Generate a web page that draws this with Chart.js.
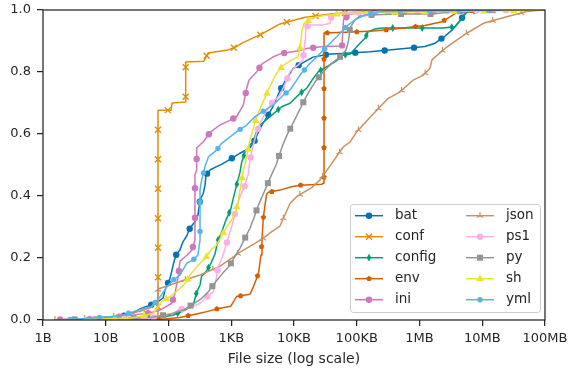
<!DOCTYPE html>
<html>
<head>
<meta charset="utf-8">
<script src="https://cdn.jsdelivr.net/npm/chart.js@4.4.1/dist/chart.umd.min.js"></script>
<style>
  html, body { margin: 0; padding: 0; background: #fff; }
</style>
</head>
<body>
<canvas id="cdfChart" width="570" height="372"></canvas>
<script>
// --- data ---
const extensions = ['bat', 'conf', 'config', 'env', 'ini', 'json', 'ps1', 'py', 'sh', 'yml'];

// x axis: one tick per decade
const tickSizes = [1, 10, 100, 1e3, 1e4, 1e5, 1e6, 1e7, 1e8];
const tickLabels = ['1B', '10B', '100B', '1KB', '10KB', '100KB', '1MB', '10MB', '100MB'];

// ECDF vertices, [file size in bytes, cumulative fraction]
const bat = [[6.7,0.002],[17,0.010],[29,0.026],[37,0.038],[51,0.048],[68,0.059],[82,0.071],[88,0.097],[106,0.135],[122,0.187],[132,0.210],[152,0.226],[170,0.252],[195,0.271],[220,0.297],[264,0.317],[295,0.339],[318,0.387],[359,0.409],[382,0.435],[396,0.468],[459,0.484],[572,0.494],[712,0.503],[956,0.518],[1380,0.538],[1990,0.555],[2390,0.581],[2870,0.618],[3450,0.645],[4630,0.688],[5560,0.726],[6370,0.751],[7740,0.781],[9740,0.812],[13300,0.828],[20100,0.848],[37500,0.858],[58200,0.860],[162000,0.865],[438000,0.873],[1.22e6,0.882],[1.77e6,0.893],[2.55e6,0.916],[3.29e6,0.935],[4.42e6,0.965],[5.31e6,0.989],[6.38e6,0.997],[9.2e6,1.0]];
const conf = [[35,0.001],[51,0.003],[66,0.006],[68,0.006],[68,0.677],[110,0.677],[114,0.700],[188,0.703],[188,0.832],[367,0.835],[426,0.861],[887,0.871],[1190,0.881],[1480,0.893],[3090,0.923],[5980,0.955],[14400,0.976],[37500,0.987],[113000,0.994],[1.02e6,0.997],[9.2e6,0.999],[3e7,1.0]];
const config = [[5.6,0.002],[35,0.003],[65,0.005],[119,0.016],[172,0.029],[248,0.048],[281,0.090],[318,0.113],[338,0.142],[382,0.151],[459,0.177],[551,0.213],[616,0.258],[704,0.284],[825,0.323],[980,0.357],[1110,0.403],[1230,0.439],[1380,0.477],[1470,0.510],[1660,0.542],[1990,0.565],[2250,0.575],[2480,0.603],[2870,0.629],[4150,0.656],[6370,0.688],[8650,0.699],[12500,0.731],[15900,0.747],[19400,0.774],[24400,0.801],[33200,0.817],[46700,0.835],[60900,0.855],[78000,0.857],[106000,0.887],[135000,0.909],[153000,0.930],[195000,0.939],[250000,0.942],[787000,0.942],[2.37e6,0.942],[3.68e6,0.946],[4.7e6,0.973],[5.65e6,0.993],[7.65e6,0.998],[1.33e7,1.0]];
const env = [[8.1,0.001],[72.6,0.002],[152,0.008],[318,0.022],[406,0.027],[662,0.038],[980,0.044],[1220,0.076],[1990,0.083],[2250,0.107],[2480,0.129],[2720,0.151],[2980,0.210],[3090,0.258],[3240,0.328],[3450,0.371],[3670,0.406],[3900,0.412],[5980,0.419],[9190,0.430],[12500,0.435],[27600,0.438],[30100,0.442],[30100,0.926],[65000,0.928],[184000,0.932],[507000,0.941],[1.22e6,0.950],[2.26e6,0.962],[3.06e6,0.978],[3.82e6,0.990],[5.31e6,0.997],[9.2e6,0.999],[1.92e7,1.0]];
const ini = [[1.87,0.002],[8.1,0.003],[51,0.023],[73,0.032],[113,0.054],[127,0.086],[143,0.140],[152,0.190],[195,0.208],[237,0.226],[264,0.258],[264,0.468],[281,0.484],[281,0.555],[359,0.575],[470,0.607],[662,0.629],[931,0.643],[1220,0.656],[1560,0.694],[1760,0.747],[1920,0.774],[2550,0.801],[3090,0.826],[4680,0.849],[6370,0.860],[12500,0.869],[15900,0.876],[29000,0.882],[58200,0.884],[61500,0.968],[78000,0.987],[235000,0.994],[1.47e6,0.997],[1.92e7,1.0]];
const json = [[1.55,0.001],[8.1,0.006],[24.4,0.019],[51,0.039],[66,0.058],[68,0.100],[106,0.113],[152,0.124],[318,0.145],[662,0.174],[1070,0.203],[1380,0.219],[2250,0.244],[3240,0.264],[4420,0.285],[5980,0.303],[6770,0.328],[8650,0.376],[11000,0.398],[19100,0.427],[26000,0.452],[35200,0.489],[60900,0.558],[78000,0.574],[99800,0.607],[162000,0.653],[235000,0.688],[318000,0.715],[489000,0.736],[797000,0.774],[1.15e6,0.790],[1.47e6,0.812],[1.58e6,0.839],[2.55e6,0.876],[3.92e6,0.903],[5.65e6,0.925],[1.04e7,0.957],[2.45e7,0.978],[5.11e7,0.995],[7.38e7,0.998],[1e8,1.0]];
const ps1 = [[6.7,0.002],[51,0.006],[119,0.022],[152,0.035],[220,0.039],[318,0.054],[406,0.074],[519,0.091],[572,0.129],[622,0.174],[712,0.200],[844,0.247],[1030,0.306],[1190,0.355],[1380,0.398],[1660,0.435],[1870,0.473],[1990,0.516],[2140,0.548],[2480,0.597],[2870,0.635],[3580,0.671],[4420,0.699],[5980,0.726],[7490,0.769],[8650,0.801],[11700,0.823],[13900,0.839],[15000,0.903],[15300,0.935],[16900,0.952],[29300,0.952],[37500,0.957],[39900,0.984],[54100,0.990],[489000,0.995],[6.38e6,0.998],[4e7,1.0]];
const py = [[3.2,0.002],[17,0.003],[57,0.010],[106,0.019],[172,0.032],[264,0.055],[338,0.070],[426,0.090],[551,0.121],[712,0.148],[931,0.174],[1150,0.206],[1380,0.232],[1660,0.265],[1990,0.296],[2300,0.329],[2640,0.365],[3090,0.397],[3670,0.432],[4300,0.465],[5170,0.500],[5980,0.539],[6770,0.569],[8020,0.603],[9890,0.639],[12000,0.674],[14600,0.709],[18000,0.742],[22400,0.772],[30100,0.803],[39900,0.828],[54100,0.849],[67400,0.871],[74300,0.903],[78000,0.942],[93800,0.968],[113000,0.981],[195000,0.985],[546000,0.987],[1.64e6,0.987],[3.06e6,0.994],[6.38e6,0.998],[1.33e7,1.0]];
const sh = [[4.7,0.002],[24.4,0.006],[35,0.011],[57,0.022],[69,0.043],[78,0.061],[106,0.075],[143,0.097],[183,0.118],[220,0.145],[298,0.177],[382,0.199],[488,0.229],[586,0.242],[748,0.282],[897,0.306],[1150,0.342],[1300,0.387],[1380,0.419],[1560,0.484],[1720,0.516],[1990,0.581],[2550,0.656],[3450,0.718],[4150,0.753],[4980,0.787],[6370,0.817],[9190,0.839],[11600,0.849],[12700,0.887],[13400,0.935],[14400,0.955],[18000,0.971],[23000,0.978],[45000,0.987],[235000,0.992],[1.47e6,0.995],[6.38e6,0.997],[4e7,0.998],[8.3e7,1.0]];
const yml = [[2.7,0.002],[17,0.013],[37,0.035],[54,0.044],[73,0.074],[91,0.103],[119,0.129],[152,0.145],[195,0.183],[248,0.194],[295,0.210],[318,0.258],[318,0.419],[338,0.452],[382,0.495],[432,0.526],[586,0.548],[704,0.570],[956,0.591],[1340,0.613],[1760,0.629],[2390,0.656],[3450,0.677],[4680,0.694],[6770,0.726],[8650,0.742],[12500,0.790],[18000,0.828],[23000,0.848],[33200,0.882],[48000,0.914],[69200,0.948],[97300,0.971],[137000,0.984],[235000,0.994],[1.02e6,0.997],[9.2e6,0.999],[2e7,1.0]];

const series = [bat, conf, config, env, ini, json, ps1, py, sh, yml];

// --- styling (seaborn colorblind palette + marker cycle) ---
const COLORS = ['#0173b2', '#de8f05', '#029e73', '#d55e00', '#cc78bc', '#ca9161', '#fbafe4', '#949494', '#ece133', '#56b4e9'];
const MARKERS = ['circle', 'x', 'thinDiamond', 'pentagon', 'circle', 'triUp', 'circle', 'square', 'triangle', 'smallCircle'];
const INK = '#262626';
const FONT = 'DejaVu Sans';
const MARK_EVERY = 0.05; // fraction of the axes diagonal, like matplotlib markevery=0.05

function drawMarker(ctx, shape, x, y, color) {
    ctx.fillStyle = color;
    ctx.strokeStyle = color;
    ctx.lineWidth = 1;
    ctx.beginPath();
    if (shape === 'circle' || shape === 'smallCircle') {
        ctx.arc(x, y, shape === 'circle' ? 3.2 : 2.7, 0, Math.PI * 2);
        ctx.fill();
    } else if (shape === 'x') {
        ctx.lineWidth = 1.4;
        ctx.moveTo(x - 3, y - 3); ctx.lineTo(x + 3, y + 3);
        ctx.moveTo(x - 3, y + 3); ctx.lineTo(x + 3, y - 3);
        ctx.stroke();
    } else if (shape === 'thinDiamond') {
        ctx.moveTo(x, y - 3.9); ctx.lineTo(x + 2.3, y);
        ctx.lineTo(x, y + 3.9); ctx.lineTo(x - 2.3, y);
        ctx.closePath(); ctx.fill();
    } else if (shape === 'pentagon') {
        for (let k = 0; k < 5; k++) {
            const a = -Math.PI / 2 + k * 2 * Math.PI / 5;
            const px = x + 2.9 * Math.cos(a), py = y + 2.9 * Math.sin(a);
            k === 0 ? ctx.moveTo(px, py) : ctx.lineTo(px, py);
        }
        ctx.closePath(); ctx.fill();
    } else if (shape === 'triUp') {
        ctx.lineWidth = 1.2;
        ctx.moveTo(x, y); ctx.lineTo(x, y - 3.6);
        ctx.moveTo(x, y); ctx.lineTo(x - 3.1, y + 1.8);
        ctx.moveTo(x, y); ctx.lineTo(x + 3.1, y + 1.8);
        ctx.stroke();
    } else if (shape === 'square') {
        ctx.fillRect(x - 3, y - 3, 6, 6);
    } else if (shape === 'triangle') {
        ctx.moveTo(x, y - 4.2); ctx.lineTo(x + 3.8, y + 2.6); ctx.lineTo(x - 3.8, y + 2.6);
        ctx.closePath(); ctx.fill();
    }
}

// markers spaced evenly along each drawn line, drawn right after that line
const markEveryPlugin = {
    id: 'markEvery',
    afterDatasetDraw(chart, args) {
        const { ctx, chartArea: a } = chart;
        const pts = args.meta.data.map(p => [p.x, p.y]);
        const step = Math.hypot(a.right - a.left, a.bottom - a.top) * MARK_EVERY;
        const shape = MARKERS[args.index], color = COLORS[args.index];
        ctx.save();
        ctx.beginPath();
        ctx.rect(a.left, a.top, a.right - a.left, a.bottom - a.top);
        ctx.clip();
        drawMarker(ctx, shape, pts[0][0], pts[0][1], color);
        let travelled = 0, next = step;
        for (let i = 1; i < pts.length; i++) {
            const [x0, y0] = pts[i - 1], [x1, y1] = pts[i];
            const len = Math.hypot(x1 - x0, y1 - y0);
            while (len > 0 && next <= travelled + len) {
                const t = (next - travelled) / len;
                drawMarker(ctx, shape, x0 + t * (x1 - x0), y0 + t * (y1 - y0), color);
                next += step;
            }
            travelled += len;
        }
        ctx.restore();
    }
};

// axes box on top of the lines, then the two-column legend
const frameAndLegendPlugin = {
    id: 'frameAndLegend',
    afterDatasetsDraw(chart) {
        const { ctx, chartArea: a } = chart;
        ctx.save();
        ctx.strokeStyle = INK;
        ctx.lineWidth = 1.25;
        ctx.strokeRect(a.left, a.top, a.right - a.left, a.bottom - a.top);
        ctx.restore();
    },
    afterDraw(chart) {
        const { ctx } = chart;
        ctx.save();
        ctx.beginPath();
        ctx.roundRect(350.5, 204.5, 190, 108, 3);
        ctx.fillStyle = 'rgba(255,255,255,0.8)';
        ctx.fill();
        ctx.strokeStyle = '#cccccc';
        ctx.lineWidth = 1;
        ctx.stroke();

        ctx.font = '13.5px "' + FONT + '"';
        ctx.textBaseline = 'middle';
        extensions.forEach((name, i) => {
            const col = Math.floor(i / 5), row = i % 5;
            const x0 = col === 0 ? 355 : 466;
            const y = 215.7 + row * 21;
            ctx.strokeStyle = COLORS[i];
            ctx.lineWidth = 1.5;
            ctx.beginPath();
            ctx.moveTo(x0, y); ctx.lineTo(x0 + 28, y);
            ctx.stroke();
            drawMarker(ctx, MARKERS[i], x0 + 14, y, COLORS[i]);
            ctx.fillStyle = INK;
            ctx.fillText(name, x0 + 40, y);
        });
        ctx.restore();
    }
};

const datasets = series.map((pts, i) => ({
    label: extensions[i],
    data: pts.map(([x, y]) => ({ x, y })),
    borderColor: COLORS[i],
    backgroundColor: COLORS[i],
    borderWidth: 1.5,
    borderJoinStyle: 'round',
    pointRadius: 0,
    tension: 0,
    fill: false,
    order: series.length - 1 - i // later series on top, like matplotlib
}));

const tickFont = { family: FONT, size: 13 };

new Chart(document.getElementById('cdfChart'), {
    type: 'line',
    data: { datasets },
    options: {
        responsive: false,
        animation: false,
        layout: { padding: { top: 10, right: 25, left: 0, bottom: 0 } },
        plugins: { legend: { display: false }, tooltip: { enabled: false } },
        scales: {
            x: {
                type: 'logarithmic',
                min: 1,
                max: 1e8,
                afterBuildTicks: scale => { scale.ticks = tickSizes.map(v => ({ value: v })); },
                afterFit: scale => {
                    scale.height = 52;
                    scale.paddingLeft = 0;
                    scale.paddingRight = 0;
                },
                ticks: {
                    callback: (v, i) => tickLabels[i],
                    autoSkip: false, maxRotation: 0,
                    font: tickFont, color: INK, padding: 5
                },
                grid: { drawOnChartArea: false, tickLength: 6, color: INK, lineWidth: 1.25 },
                border: { display: false },
                title: {
                    display: true, text: 'File size (log scale)',
                    font: { family: FONT, size: 14 }, color: INK,
                    padding: { top: 0, bottom: 4 }
                }
            },
            y: {
                min: 0,
                max: 1,
                afterFit: scale => {
                    scale.width = 43;
                    scale.paddingTop = 0;
                    scale.paddingBottom = 0;
                },
                ticks: {
                    stepSize: 0.2,
                    callback: v => v.toFixed(1),
                    font: tickFont, color: INK, padding: 6
                },
                grid: { drawOnChartArea: false, tickLength: 6, color: INK, lineWidth: 1.25 },
                border: { display: false }
            }
        }
    },
    plugins: [markEveryPlugin, frameAndLegendPlugin]
});
</script>
</body>
</html>
